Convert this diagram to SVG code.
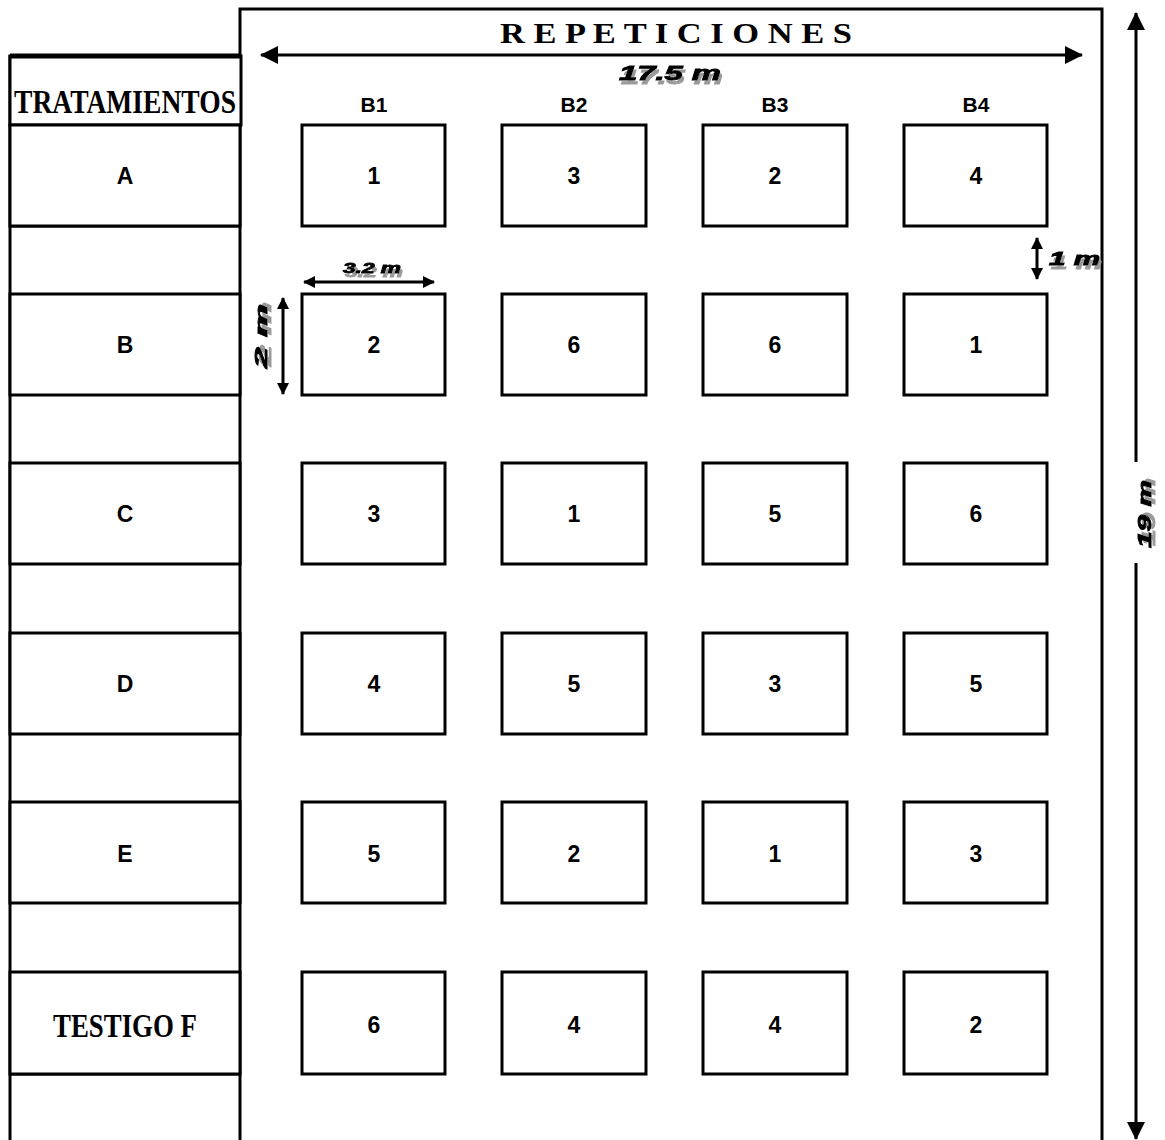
<svg xmlns="http://www.w3.org/2000/svg" width="1165" height="1140" viewBox="0 0 1165 1140">
<defs>
<style>
.bx{fill:#fff;stroke:#000;stroke-width:3}
.ln{fill:none;stroke:#000;stroke-width:3}
.sans{font-family:"Liberation Sans",Arial,sans-serif;font-weight:bold;font-size:23px;text-anchor:middle;fill:#000}
.hdr{font-family:"Liberation Sans",Arial,sans-serif;font-weight:bold;font-size:21px;text-anchor:middle;fill:#000}
.serif{font-family:"Liberation Serif","Times New Roman",serif;font-weight:bold;fill:#000}
.dim{font-family:"Liberation Sans",Arial,sans-serif;font-weight:bold;font-style:italic;fill:#000;stroke:#000;stroke-width:0.9;filter:url(#sh)}
</style>
<filter id="sh" x="-20%" y="-30%" width="150%" height="190%">
<feOffset in="SourceAlpha" dx="2" dy="4" result="o"/>
<feFlood flood-color="#9a9a9a"/>
<feComposite in2="o" operator="in" result="s"/>
<feMerge><feMergeNode in="s"/><feMergeNode in="SourceGraphic"/></feMerge>
</filter>
<marker id="ahL" viewBox="0 0 18 18" refX="17" refY="9" markerWidth="18" markerHeight="18" markerUnits="userSpaceOnUse" orient="auto-start-reverse">
<path d="M0,0 L18,9 L0,18 Z" fill="#000"/>
</marker>
<marker id="ahS" viewBox="0 0 12 12" refX="11" refY="6" markerWidth="12" markerHeight="12" markerUnits="userSpaceOnUse" orient="auto-start-reverse">
<path d="M0,0 L12,6 L0,12 Z" fill="#000"/>
</marker>
</defs>
<rect width="1165" height="1140" fill="#fff"/>

<g id="frame">
<path class="ln" d="M240,1145 V9 H1102 V1145"/>
<text class="serif" x="500" y="43" font-size="29" textLength="352" lengthAdjust="spacingAndGlyphs">R E P E T I C I O N E S</text>
</g>

<g id="treatments-column">
<path class="ln" d="M10,55 V1145"/>
<g id="header-tratamientos">
<rect class="bx" x="10" y="56" width="231" height="69"/>
<path d="M10,56 H241" stroke="#000" stroke-width="5"/>
<text class="serif" x="14" y="113" font-size="33" textLength="222" lengthAdjust="spacingAndGlyphs">TRATAMIENTOS</text>
</g>
<path class="ln" d="M10,226 H240 M10,1074 H240"/>
<g id="trt-A"><rect class="bx" x="10" y="125" width="230" height="101"/><text class="sans" x="125" y="184">A</text></g>
<g id="trt-B"><rect class="bx" x="10" y="294" width="230" height="101"/><text class="sans" x="125" y="353">B</text></g>
<g id="trt-C"><rect class="bx" x="10" y="463" width="230" height="101"/><text class="sans" x="125" y="522">C</text></g>
<g id="trt-D"><rect class="bx" x="10" y="633" width="230" height="101"/><text class="sans" x="125" y="692">D</text></g>
<g id="trt-E"><rect class="bx" x="10" y="802" width="230" height="101"/><text class="sans" x="125" y="862">E</text></g>
<g id="trt-F"><rect class="bx" x="10" y="972" width="230" height="102"/><text class="serif" x="53" y="1037" font-size="33" textLength="144" lengthAdjust="spacingAndGlyphs">TESTIGO F</text></g>
</g>

<g id="block-headers">
<text class="hdr" x="374" y="112">B1</text>
<text class="hdr" x="574" y="112">B2</text>
<text class="hdr" x="775" y="112">B3</text>
<text class="hdr" x="976" y="112">B4</text>
</g>

<g id="plots">
<g id="p-A1"><rect class="bx" x="302" y="125" width="143" height="101"/><text class="sans" x="374" y="184">1</text></g>
<g id="p-A2"><rect class="bx" x="502" y="125" width="144" height="101"/><text class="sans" x="574" y="184">3</text></g>
<g id="p-A3"><rect class="bx" x="703" y="125" width="144" height="101"/><text class="sans" x="775" y="184">2</text></g>
<g id="p-A4"><rect class="bx" x="904" y="125" width="143" height="101"/><text class="sans" x="976" y="184">4</text></g>

<g id="p-B1"><rect class="bx" x="302" y="294" width="143" height="101"/><text class="sans" x="374" y="353">2</text></g>
<g id="p-B2"><rect class="bx" x="502" y="294" width="144" height="101"/><text class="sans" x="574" y="353">6</text></g>
<g id="p-B3"><rect class="bx" x="703" y="294" width="144" height="101"/><text class="sans" x="775" y="353">6</text></g>
<g id="p-B4"><rect class="bx" x="904" y="294" width="143" height="101"/><text class="sans" x="976" y="353">1</text></g>

<g id="p-C1"><rect class="bx" x="302" y="463" width="143" height="101"/><text class="sans" x="374" y="522">3</text></g>
<g id="p-C2"><rect class="bx" x="502" y="463" width="144" height="101"/><text class="sans" x="574" y="522">1</text></g>
<g id="p-C3"><rect class="bx" x="703" y="463" width="144" height="101"/><text class="sans" x="775" y="522">5</text></g>
<g id="p-C4"><rect class="bx" x="904" y="463" width="143" height="101"/><text class="sans" x="976" y="522">6</text></g>

<g id="p-D1"><rect class="bx" x="302" y="633" width="143" height="101"/><text class="sans" x="374" y="692">4</text></g>
<g id="p-D2"><rect class="bx" x="502" y="633" width="144" height="101"/><text class="sans" x="574" y="692">5</text></g>
<g id="p-D3"><rect class="bx" x="703" y="633" width="144" height="101"/><text class="sans" x="775" y="692">3</text></g>
<g id="p-D4"><rect class="bx" x="904" y="633" width="143" height="101"/><text class="sans" x="976" y="692">5</text></g>

<g id="p-E1"><rect class="bx" x="302" y="802" width="143" height="101"/><text class="sans" x="374" y="862">5</text></g>
<g id="p-E2"><rect class="bx" x="502" y="802" width="144" height="101"/><text class="sans" x="574" y="862">2</text></g>
<g id="p-E3"><rect class="bx" x="703" y="802" width="144" height="101"/><text class="sans" x="775" y="862">1</text></g>
<g id="p-E4"><rect class="bx" x="904" y="802" width="143" height="101"/><text class="sans" x="976" y="862">3</text></g>

<g id="p-F1"><rect class="bx" x="302" y="972" width="143" height="102"/><text class="sans" x="374" y="1033">6</text></g>
<g id="p-F2"><rect class="bx" x="502" y="972" width="144" height="102"/><text class="sans" x="574" y="1033">4</text></g>
<g id="p-F3"><rect class="bx" x="703" y="972" width="144" height="102"/><text class="sans" x="775" y="1033">4</text></g>
<g id="p-F4"><rect class="bx" x="904" y="972" width="143" height="102"/><text class="sans" x="976" y="1033">2</text></g>
</g>

<g id="connectors">
<line class="ln" x1="261" y1="55" x2="1082" y2="55" marker-start="url(#ahL)" marker-end="url(#ahL)"/>
<line class="ln" x1="1136" y1="13" x2="1136" y2="462" marker-start="url(#ahL)"/>
<line class="ln" x1="1136" y1="563" x2="1136" y2="1139" marker-end="url(#ahL)"/>
<line class="ln" x1="304" y1="282" x2="434" y2="282" marker-start="url(#ahS)" marker-end="url(#ahS)"/>
<line class="ln" x1="283" y1="298" x2="283" y2="394" marker-start="url(#ahS)" marker-end="url(#ahS)"/>
<line class="ln" x1="1037" y1="238" x2="1037" y2="279" marker-start="url(#ahS)" marker-end="url(#ahS)"/>
</g>

<g id="dimension-labels">
<text class="dim" x="619" y="80" font-size="21" textLength="102" lengthAdjust="spacingAndGlyphs">17.5 m</text>
<text class="dim" x="343" y="273" font-size="15" textLength="58" lengthAdjust="spacingAndGlyphs">3.2 m</text>
<text class="dim" x="1049" y="265" font-size="18" textLength="51" lengthAdjust="spacingAndGlyphs">1 m</text>
<text class="dim" transform="translate(267,368) rotate(-90)" x="0" y="0" font-size="16" textLength="64" lengthAdjust="spacingAndGlyphs">2 m</text>
<text class="dim" transform="translate(1151,548) rotate(-90)" x="0" y="0" font-size="19" textLength="68" lengthAdjust="spacingAndGlyphs">19 m</text>
</g>
</svg>
